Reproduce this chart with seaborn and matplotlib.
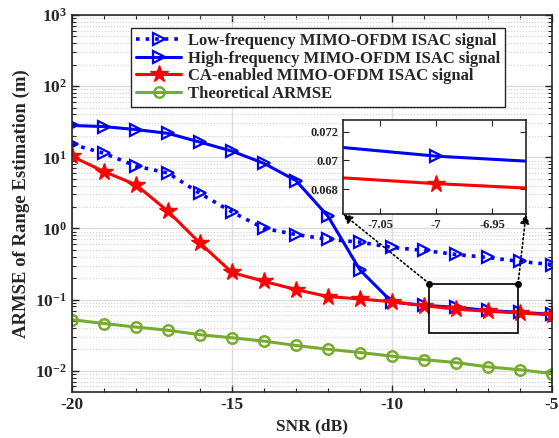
import numpy as np
import pandas as pd
import seaborn as sns
import matplotlib
matplotlib.use("Agg")
import matplotlib.pyplot as plt
from matplotlib.patches import Rectangle
from matplotlib.ticker import LogLocator, NullFormatter, FixedLocator

snr = [-20, -19, -18, -17, -16, -15, -14, -13, -12, -11, -10, -9, -8, -7, -6, -5]
low_freq = [15.2, 11.4, 7.5, 6.0, 3.1, 1.7, 1.0, 0.82, 0.70, 0.64, 0.54, 0.49, 0.43, 0.39, 0.343, 0.31]
high_freq = [28, 27, 24.5, 21.7, 16.3, 12.2, 8.2, 4.7, 1.48, 0.26, 0.092, 0.083, 0.0775, 0.0703, 0.066, 0.062]
ca_enabled = [10.3, 6.3, 4.1, 1.74, 0.62, 0.24, 0.18, 0.138, 0.11, 0.102, 0.093, 0.082, 0.0732, 0.0684, 0.0646, 0.061]
theory = [0.052, 0.046, 0.041, 0.037, 0.032, 0.029, 0.026, 0.0226, 0.020, 0.018, 0.016, 0.0143, 0.013, 0.0113, 0.0103, 0.0091]

labels = ["Low-frequency MIMO-OFDM ISAC signal",
          "High-frequency MIMO-OFDM ISAC signal",
          "CA-enabled MIMO-OFDM ISAC signal",
          "Theoretical ARMSE"]
inset_xticks = [-7.05, -7, -6.95]
inset_yticks = [0.068, 0.07, 0.072]

sns.set_style("ticks")
plt.rcParams['font.family'] = ['Liberation Serif', 'DejaVu Serif']
plt.rcParams['font.weight'] = 'bold'
plt.rcParams['mathtext.fontset'] = 'custom'
plt.rcParams['mathtext.rm'] = 'Liberation Serif:bold'
plt.rcParams['mathtext.bf'] = 'Liberation Serif:bold'
plt.rcParams['mathtext.it'] = 'Liberation Serif:bold'

BLUE = (0, 0, 1)
RED = (1, 0, 0)
GREEN = (0.466, 0.674, 0.188)

styles = [
    dict(color=BLUE, linestyle=':', marker='>', markersize=9, markerfacecolor='none',
         markeredgecolor=BLUE, markeredgewidth=1.6, linewidth=2.6),
    dict(color=BLUE, linestyle='-', marker='>', markersize=9, markerfacecolor='none',
         markeredgecolor=BLUE, markeredgewidth=1.6, linewidth=2.2),
    dict(color=RED, linestyle='-', marker='*', markersize=13, markerfacecolor=RED,
         markeredgecolor=RED, markeredgewidth=1.0, linewidth=2.2),
    dict(color=GREEN, linestyle='-', marker='o', markersize=7.5, markerfacecolor='none',
         markeredgecolor=GREEN, markeredgewidth=1.8, linewidth=2.2),
]
series = [low_freq, high_freq, ca_enabled, theory]

fig = plt.figure(figsize=(5.59, 4.38), dpi=100)
W, H = 559, 438
ax = fig.add_axes([72 / W, (H - 392) / H, (552 - 72) / W, (392 - 15) / H])

for vals, lab, st in zip(series, labels, styles):
    df = pd.DataFrame({"SNR": snr, "val": vals})
    sns.lineplot(data=df, x="SNR", y="val", ax=ax, label=lab, **st)

ax.set_yscale('log')
ax.set_xlim(-20, -5)
ax.set_ylim(10 ** -2.3, 1e3)
ax.set_xticks([-20, -15, -10, -5])
ax.set_xticklabels(['-20', '-15', '-10', '-5'])
ax.yaxis.set_major_locator(FixedLocator([1e-2, 1e-1, 1e0, 1e1, 1e2, 1e3]))
ax.set_yticklabels([r'$\mathbf{10^{-2}}$', r'$\mathbf{10^{-1}}$', r'$\mathbf{10^{0}}$',
                    r'$\mathbf{10^{1}}$', r'$\mathbf{10^{2}}$', r'$\mathbf{10^{3}}$'])
ax.yaxis.set_minor_locator(LogLocator(base=10, subs=np.arange(2, 10), numticks=20))
ax.yaxis.set_minor_formatter(NullFormatter())
ax.xaxis.set_minor_locator(FixedLocator(snr))
ax.tick_params(axis='both', which='both', direction='in', top=True, right=True)
ax.tick_params(axis='x', which='minor', length=0)
ax.tick_params(which='major', length=5, width=1.0, labelsize=12.5)
ax.tick_params(which='minor', length=3, width=0.8)
ax.grid(True, which='major', axis='both', color='#dcdcdc', linewidth=1.0)
ax.grid(True, which='minor', axis='y', color='#d0d0d0', linestyle=':', linewidth=0.8)
ax.set_axisbelow(True)
for s in ax.spines.values():
    s.set_linewidth(1.2)
    s.set_color('#262626')
ax.set_xlabel('SNR (dB)', fontsize=12.5, fontweight='bold')
ax.set_ylabel('ARMSE of Range Estimation (m)', fontsize=13.5, fontweight='bold')

leg = ax.legend(loc='upper left', bbox_to_anchor=((131 - 72) / 480, (392 - 28) / 377),
                borderaxespad=0, handlelength=2.7, handletextpad=0.4,
                labelspacing=0.1, borderpad=0.3, fancybox=False, framealpha=1,
                edgecolor='#262626', prop=dict(weight='bold', size=12))
leg.get_frame().set_linewidth(1.0)

# zoom box
bx0, bx1, by0, by1 = -8.84, -6.06, 0.034, 0.168
ax.add_patch(Rectangle((bx0, by0), bx1 - bx0, by1 - by0, fill=False, edgecolor='k',
                       linewidth=1.2, zorder=5))
ax.plot([bx0, bx1], [by1, by1], linestyle='none', marker='o', color='k', markersize=4, zorder=6)

# inset
axins = fig.add_axes([343 / W, (H - 214) / H, (526 - 343) / W, (214 - 120) / H])
for vals, st in zip(series[1:3], styles[1:3]):
    df = pd.DataFrame({"SNR": snr, "val": vals})
    sns.lineplot(data=df, x="SNR", y="val", ax=axins, legend=False, **st)
axins.set_xlim(-7.083, -6.92)
axins.set_ylim(0.0663, 0.0728)
axins.set_xticks(inset_xticks)
axins.set_xticklabels(['-7.05', '-7', '-6.95'])
axins.set_yticks(inset_yticks)
axins.set_yticklabels(['0.068', '0.07', '0.072'])
axins.set_xlabel('')
axins.set_ylabel('')
axins.tick_params(direction='in', top=True, right=True, labelsize=9, length=4)
for s in axins.spines.values():
    s.set_linewidth(1.2)
    s.set_color('#262626')
axins.set_facecolor('white')

for (xd, yd, xa) in [(bx0, by1, 0.0), (bx1, by1, 1.0)]:
    ax.annotate('', xy=(xa, 0.0), xycoords=axins.transAxes, xytext=(xd, yd), textcoords='data',
                arrowprops=dict(arrowstyle='-|>', linestyle=':', color='k', linewidth=1.2,
                                mutation_scale=14, shrinkA=0, shrinkB=0), zorder=7)

fig.savefig('out.png', dpi=100)
